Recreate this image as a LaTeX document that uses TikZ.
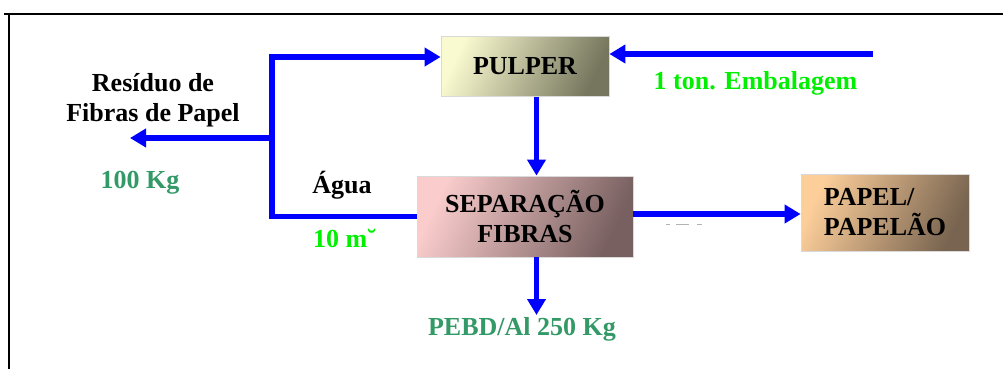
\documentclass[tikz,border=0pt]{standalone}
\usepackage{fontspec}
\setmainfont{Liberation Serif}
\usetikzlibrary{arrows.meta}
\definecolor{flow}{RGB}{0,0,255}
\definecolor{brightgreen}{RGB}{0,240,0}
\definecolor{seagreen}{RGB}{51,153,102}
\definecolor{pulA}{RGB}{250,250,208}
\definecolor{pulB}{RGB}{180,180,140}
\definecolor{pulC}{RGB}{118,118,94}
\definecolor{sepA}{RGB}{250,204,204}
\definecolor{sepB}{RGB}{180,140,140}
\definecolor{sepC}{RGB}{120,96,96}
\definecolor{papA}{RGB}{252,206,154}
\definecolor{papB}{RGB}{176,140,104}
\definecolor{papC}{RGB}{120,100,80}
\begin{document}
\begin{tikzpicture}[x=1pt,y=-1pt,
  txt/.style={font=\fontsize{26}{30}\selectfont\bfseries, inner sep=0pt},
  box/.style={txt, draw=white!85!black, line width=0.8pt, minimum width=168pt, align=center},
  flowline/.style={draw=flow, line width=5.5pt, -{Triangle[length=16pt,width=18pt]}},
  plainflow/.style={draw=flow, line width=5.5pt},
]
\useasboundingbox (0,0) rectangle (1003,369);
% frame
\draw[line width=2pt] (4,14.5) -- (1003,14.5);
\draw[line width=2pt] (9,14.5) -- (9,369);

% boxes
\node[box, minimum height=60pt, left color=pulA, middle color=pulB, right color=pulC, shading angle=65] (pulper) at (525,66.5) {PULPER};
\node[box, minimum width=216pt, minimum height=81pt, left color=sepA, middle color=sepB, right color=sepC, shading angle=65] (sep) at (525,216.5) {SEPARAÇÃO\\FIBRAS};
\node[box, align=left, minimum height=77pt, left color=papA, middle color=papB, right color=papC, shading angle=65] (papel) at (885,212.5) {PAPEL/\\PAPELÃO};

% coordinates
\coordinate (jtop) at (272,57);
\coordinate (jmid) at (272,138);
\coordinate (jbot) at (272,216.5);
\coordinate (resend) at (130,138);
\coordinate (embstart) at (873,54);
\coordinate (pebdend) at (536.5,315);

% flows
\draw[flowline] (embstart) -- (pulper.east |- embstart);
\draw[flowline] (sep.west) -- (jbot) -- (jtop) -- (pulper.west |- jtop);
\draw[flowline] (jmid) -- (resend);
\draw[flowline] (pulper.south -| pebdend) -- (sep.north -| pebdend);
\draw[flowline] (sep.east |- 0,214) -- (papel.west |- 0,214);
\draw[flowline] (sep.south -| pebdend) -- (pebdend);

% clipped fragments under the arrow
\draw[gray!60, line width=1pt] (666,224) -- (670,224) (676,224) -- (689,224) (697,224) -- (702,224);

% labels
\node[txt, anchor=base] (res1) at (153,91.7) {Resíduo de};
\node[txt, anchor=base] (res2) at (153,121) {Fibras de Papel};
\node[txt, anchor=base, text=seagreen] (kg100) at (140,188) {100 Kg};
\node[txt, anchor=base] (agua) at (342,193) {Água};
\node[txt, anchor=base, text=brightgreen] (m3) at (344.5,247) {10 m˘};
\node[txt, anchor=base, text=brightgreen] (emb) at (755.5,89) {1 ton. Embalagem};
\node[txt, anchor=base, text=seagreen] (pebd) at (522,335) {PEBD/Al 250 Kg};
\end{tikzpicture}
\end{document}
